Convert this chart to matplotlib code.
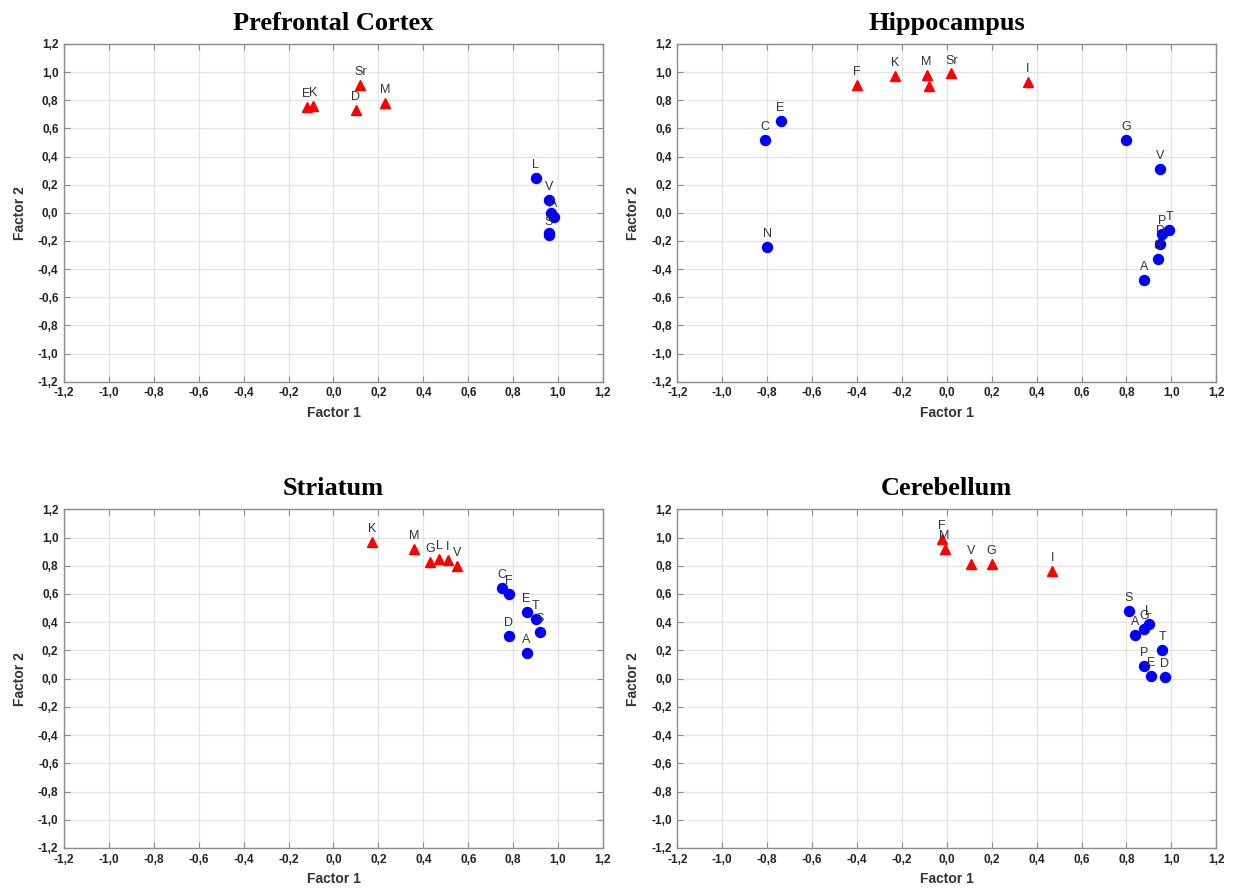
import matplotlib
matplotlib.use("Agg")
import matplotlib.pyplot as plt
from matplotlib.ticker import FuncFormatter, MultipleLocator

# Prefrontal Cortex
pfc_tri_labels = ["E", "K", "Sr", "D", "M"]
pfc_tri_x = [-0.12, -0.09, 0.12, 0.10, 0.23]
pfc_tri_y = [0.75, 0.76, 0.91, 0.73, 0.78]
pfc_dot_labels = ["L", "V", "", "A", "", "S"]
pfc_dot_x = [0.90, 0.96, 0.97, 0.98, 0.96, 0.96]
pfc_dot_y = [0.25, 0.09, 0.00, -0.03, -0.14, -0.16]

# Hippocampus
hip_tri_labels = ["F", "K", "M", "", "Sr", "I"]
hip_tri_x = [-0.40, -0.23, -0.09, -0.08, 0.02, 0.36]
hip_tri_y = [0.91, 0.97, 0.98, 0.90, 0.99, 0.93]
hip_dot_labels = ["C", "E", "N", "G", "V", "T", "P", "D", "S", "A"]
hip_dot_x = [-0.81, -0.74, -0.80, 0.80, 0.95, 0.99, 0.96, 0.95, 0.94, 0.88]
hip_dot_y = [0.52, 0.65, -0.24, 0.52, 0.31, -0.12, -0.15, -0.22, -0.33, -0.48]

# Striatum
str_tri_labels = ["K", "M", "G", "L", "I", "V"]
str_tri_x = [0.17, 0.36, 0.43, 0.47, 0.51, 0.55]
str_tri_y = [0.97, 0.92, 0.83, 0.85, 0.84, 0.80]
str_dot_labels = ["C", "F", "E", "T", "S", "D", "A"]
str_dot_x = [0.75, 0.78, 0.86, 0.90, 0.92, 0.78, 0.86]
str_dot_y = [0.64, 0.60, 0.47, 0.42, 0.33, 0.30, 0.18]

# Cerebellum
cer_tri_labels = ["F", "M", "V", "G", "I"]
cer_tri_x = [-0.02, -0.01, 0.11, 0.20, 0.47]
cer_tri_y = [0.99, 0.92, 0.81, 0.81, 0.76]
cer_dot_labels = ["S", "L", "G", "A", "T", "P", "E", "D"]
cer_dot_x = [0.81, 0.90, 0.88, 0.84, 0.96, 0.88, 0.91, 0.97]
cer_dot_y = [0.48, 0.39, 0.35, 0.31, 0.20, 0.09, 0.02, 0.01]

panels = [
    ("Prefrontal Cortex", pfc_tri_labels, pfc_tri_x, pfc_tri_y, pfc_dot_labels, pfc_dot_x, pfc_dot_y),
    ("Hippocampus", hip_tri_labels, hip_tri_x, hip_tri_y, hip_dot_labels, hip_dot_x, hip_dot_y),
    ("Striatum", str_tri_labels, str_tri_x, str_tri_y, str_dot_labels, str_dot_x, str_dot_y),
    ("Cerebellum", cer_tri_labels, cer_tri_x, cer_tri_y, cer_dot_labels, cer_dot_x, cer_dot_y),
]

positions = [
    [0.0518, 0.574, 0.436, 0.377],
    [0.548, 0.574, 0.436, 0.377],
    [0.0518, 0.0536, 0.436, 0.378],
    [0.548, 0.0536, 0.436, 0.378],
]

comma_fmt = FuncFormatter(lambda v, p: f"{v:.1f}".replace(".", ",").replace("-0,0", "0,0"))

fig = plt.figure(figsize=(12.36, 8.96), dpi=100)
fig.patch.set_facecolor("white")

for pos, (title, tl, tx, ty, dl, dx, dy) in zip(positions, panels):
    ax = fig.add_axes(pos)
    ax.set_xlim(-1.2, 1.2)
    ax.set_ylim(-1.2, 1.2)
    ax.xaxis.set_major_locator(MultipleLocator(0.2))
    ax.yaxis.set_major_locator(MultipleLocator(0.2))
    ax.xaxis.set_major_formatter(comma_fmt)
    ax.yaxis.set_major_formatter(comma_fmt)
    ax.grid(True, color="#e4e4e4", linewidth=0.9)
    ax.set_axisbelow(True)
    for s in ax.spines.values():
        s.set_color("#8c8c8c")
        s.set_linewidth(1.0)
    ax.tick_params(direction="in", length=4, color="#8c8c8c", top=True, right=True,
                   labelsize=8.5, labelcolor="#222222", pad=4)
    for lab in ax.get_xticklabels() + ax.get_yticklabels():
        lab.set_fontweight("bold")
        lab.set_family("Liberation Sans")
    ax.set_xlabel("Factor 1", fontsize=10, fontweight="bold", family="Liberation Sans", color="#333333", labelpad=5)
    ax.set_ylabel("Factor 2", fontsize=10, fontweight="bold", family="Liberation Sans", color="#333333", labelpad=8)
    ax.set_title(title, fontsize=19, fontweight="bold", family="Liberation Serif", pad=10)

    ax.plot(tx, ty, linestyle="none", marker="^", markersize=7.5, color="#ff0000", zorder=3)
    ax.plot(dx, dy, linestyle="none", marker="o", markersize=7.2, color="#0000ff", zorder=3)
    for lbl, x, y in zip(tl, tx, ty):
        if lbl:
            ax.annotate(lbl, (x, y), xytext=(0, 5), textcoords="offset points", ha="center", va="bottom",
                        fontsize=9, color="#333333", family="Liberation Sans", zorder=4)
    for lbl, x, y in zip(dl, dx, dy):
        if lbl:
            ax.annotate(lbl, (x, y), xytext=(0, 5), textcoords="offset points", ha="center", va="bottom",
                        fontsize=9, color="#333333", family="Liberation Sans", zorder=4)

fig.savefig("out.png", dpi=100, facecolor="white")
